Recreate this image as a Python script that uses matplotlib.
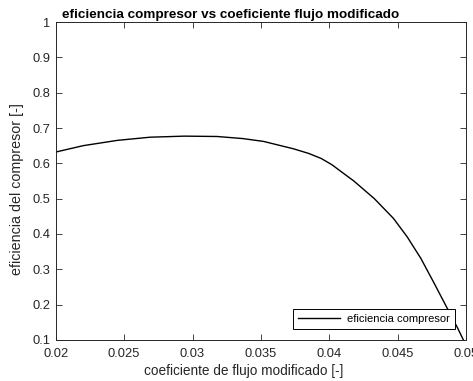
import numpy as np
import matplotlib
matplotlib.use("Agg")
import matplotlib.pyplot as plt

# coeficiente de flujo modificado vs eficiencia del compresor
phi = [0.0200, 0.0220, 0.0245, 0.0269, 0.0294, 0.0318, 0.0337, 0.0352,
       0.0374, 0.0385, 0.0394, 0.0402, 0.0411, 0.0418, 0.0433, 0.0447,
       0.0457, 0.0467, 0.0476, 0.0486, 0.0494, 0.0500]
eta = [0.632, 0.650, 0.665, 0.674, 0.677, 0.676, 0.670, 0.662,
       0.641, 0.628, 0.614, 0.596, 0.570, 0.550, 0.500, 0.444,
       0.392, 0.331, 0.266, 0.192, 0.133, 0.085]

xticks = [0.02, 0.025, 0.03, 0.035, 0.04, 0.045, 0.05]
yticks = [0.1, 0.2, 0.3, 0.4, 0.5, 0.6, 0.7, 0.8, 0.9, 1.0]

plt.rcParams['font.family'] = ['Liberation Sans', 'DejaVu Sans']

fig = plt.figure(figsize=(4.73, 3.81), dpi=100)
ax = fig.add_axes([0.118, 0.108, 0.867, 0.834])

ax.plot(phi, eta, color='black', linewidth=1.0, label='eficiencia compresor')

ax.set_xlim(0.02, 0.05)
ax.set_ylim(0.1, 1.0)
ax.set_xticks(xticks)
ax.set_xticklabels([f"{t:g}" for t in xticks])
ax.set_yticks(yticks)
ax.set_yticklabels([f"{t:g}" for t in yticks])

ax.tick_params(direction='in', top=True, right=True, length=4, width=0.6,
               labelsize=9.3, colors='#262626')
ax.tick_params(axis='x', pad=6)
ax.tick_params(axis='y', pad=4)
for s in ax.spines.values():
    s.set_color('#262626')
    s.set_linewidth(0.7)

ax.set_title('eficiencia compresor vs coeficiente flujo modificado',
             fontsize=9.7, fontweight='bold', x=0.427, pad=3)
ax.set_xlabel('coeficiente de flujo modificado [-]', fontsize=9.8, color='#262626',
              labelpad=3, x=0.459)
ax.set_ylabel('eficiencia del compresor [-]', fontsize=10.3, color='#262626',
              labelpad=6, y=0.475)

leg = ax.legend(loc='lower right', fontsize=8, fancybox=False, framealpha=1,
                edgecolor='black', borderpad=0.45, handlelength=3.8,
                handletextpad=0.6, borderaxespad=0,
                bbox_to_anchor=(0.973, 0.033))
leg.get_frame().set_linewidth(0.7)

fig.savefig('out.png', dpi=100)
